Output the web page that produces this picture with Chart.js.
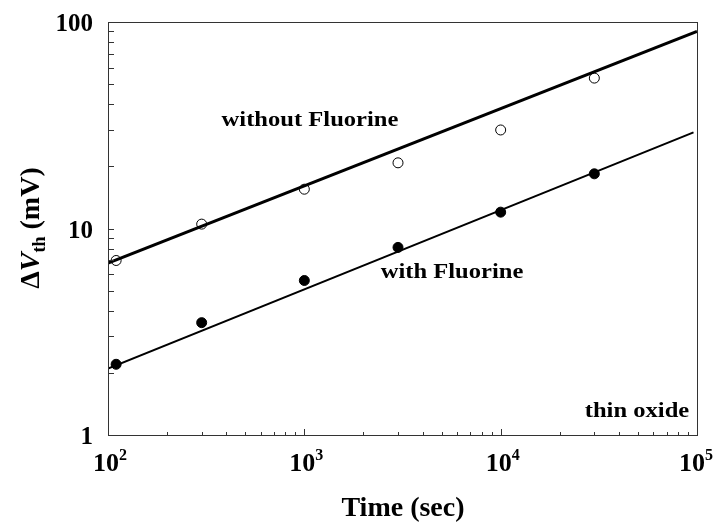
<!DOCTYPE html>
<html>
<head>
<meta charset="utf-8">
<script src="https://cdn.jsdelivr.net/npm/chart.js@4.4.0/dist/chart.umd.min.js"></script>
<style>
  body { margin: 0; background: #fff; }
  #wrap { width: 715px; height: 525px; }
</style>
</head>
<body>
<div id="wrap"><canvas id="myChart" width="715" height="525"></canvas></div>
<script>
// measured threshold voltage shift vs stress time
const timeSec = [110, 300, 1000, 3000, 10000, 30000];
const dvthWithout = [7.0, 10.5, 15.5, 20.8, 30, 53.5];
const dvthWith = [2.2, 3.5, 5.6, 8.1, 12, 18.4];

// power-law fit lines
const fitWithoutX = [100, 100000];
const fitWithoutY = [6.8, 90];
const fitWithX = [100, 96000];
const fitWithY = [2.1, 29.2];

// axis labels
const xTickExp = [2, 3, 4, 5];
const yTickLabels = ['1', '10', '100'];

const SERIF = '"Liberation Serif", "Times New Roman", serif';

function toPoints(xs, ys) {
    return xs.map((x, i) => ({ x: x, y: ys[i] }));
}

// draw text with an optional horizontal stretch
function drawText(ctx, str, x, y, font, sx, align) {
    ctx.save();
    ctx.font = font;
    ctx.textBaseline = 'alphabetic';
    ctx.textAlign = 'left';
    const w = ctx.measureText(str).width * sx;
    let x0 = x;
    if (align === 'center') x0 = x - w / 2;
    if (align === 'right') x0 = x - w;
    ctx.translate(x0, y);
    ctx.scale(sx, 1);
    ctx.fillText(str, 0, 0);
    ctx.restore();
    return w;
}

const decorPlugin = {
    id: 'decor',
    afterDraw(chart) {
        const ctx = chart.ctx;
        const a = chart.chartArea;
        const xs = chart.scales.x;
        const ys = chart.scales.y;
        ctx.save();
        ctx.fillStyle = '#000';

        // frame
        ctx.strokeStyle = '#333';
        ctx.lineWidth = 1;
        ctx.strokeRect(a.left + 0.5, a.top + 0.5, a.right - a.left, a.bottom - a.top);

        // inward tick marks
        ctx.beginPath();
        for (let k = 2; k < 5; k++) {
            for (let m = 1; m < 10; m++) {
                const v = m * Math.pow(10, k);
                const px = Math.round(xs.getPixelForValue(v)) + 0.5;
                const len = m === 1 ? 6 : 3;
                ctx.moveTo(px, a.bottom);
                ctx.lineTo(px, a.bottom - len);
            }
        }
        for (let k = 0; k < 2; k++) {
            for (let m = 1; m < 10; m++) {
                const v = m * Math.pow(10, k);
                const py = Math.round(ys.getPixelForValue(v)) + 0.5;
                ctx.moveTo(a.left, py);
                ctx.lineTo(a.left + 6, py);
            }
        }
        ctx.stroke();

        // y tick labels
        yTickLabels.forEach(t => {
            const py = ys.getPixelForValue(Number(t));
            drawText(ctx, t, a.left - 15, py + 9, 'bold 25px ' + SERIF, 1.0, 'right');
        });

        // x tick labels: 10 with superscript exponent
        xTickExp.forEach(e => {
            const px = xs.getPixelForValue(Math.pow(10, e));
            ctx.font = 'bold 26px ' + SERIF;
            const wBase = ctx.measureText('10').width;
            ctx.font = 'bold 16px ' + SERIF;
            const wExp = ctx.measureText(String(e)).width;
            const x0 = Math.min(px + 2 - (wBase + wExp) / 2, 713 - wBase - wExp);
            drawText(ctx, '10', x0, 471, 'bold 26px ' + SERIF, 1.0, 'left');
            drawText(ctx, String(e), x0 + wBase, 460, 'bold 16px ' + SERIF, 1.0, 'left');
        });

        // axis titles
        drawText(ctx, 'Time (sec)', 403, 516, 'bold 28px ' + SERIF, 1.0, 'center');

        ctx.save();
        ctx.translate(39, 228);
        ctx.rotate(-Math.PI / 2);
        const fMain = 'bold 28px ' + SERIF;
        const fItal = 'italic bold 28px ' + SERIF;
        const fSub = 'bold 18px ' + SERIF;
        ctx.font = fMain; const w1 = ctx.measureText('\u0394').width;
        ctx.font = fItal; const w2 = ctx.measureText('V').width;
        ctx.font = fSub; const w3 = ctx.measureText('th').width;
        ctx.font = fMain; const w4 = ctx.measureText(' (mV)').width;
        let x = -(w1 + w2 + w3 + w4) / 2;
        drawText(ctx, '\u0394', x, 0, fMain, 1.0, 'left'); x += w1;
        drawText(ctx, 'V', x, 0, fItal, 1.0, 'left'); x += w2;
        drawText(ctx, 'th', x, 6, fSub, 1.0, 'left'); x += w3;
        drawText(ctx, ' (mV)', x, 0, fMain, 1.0, 'left');
        ctx.restore();

        // annotations
        const fNote = 'bold 21px ' + SERIF;
        drawText(ctx, 'without Fluorine', 310, 126, fNote, 1.17, 'center');
        drawText(ctx, 'with Fluorine', 452, 278, fNote, 1.17, 'center');
        drawText(ctx, 'thin oxide', 637, 417, fNote, 1.17, 'center');

        ctx.restore();
    }
};

const myChart = document.getElementById('myChart');

let scatterChart = new Chart(myChart, {
    type: 'scatter',
    data: {
        datasets: [
            {
                label: 'without Fluorine fit',
                data: toPoints(fitWithoutX, fitWithoutY),
                showLine: true,
                borderColor: '#000',
                borderWidth: 3,
                pointRadius: 0
            },
            {
                label: 'with Fluorine fit',
                data: toPoints(fitWithX, fitWithY),
                showLine: true,
                borderColor: '#000',
                borderWidth: 2,
                pointRadius: 0
            },
            {
                label: 'without Fluorine',
                data: toPoints(timeSec, dvthWithout),
                pointRadius: 5,
                pointBackgroundColor: '#fff',
                pointBorderColor: '#000',
                pointBorderWidth: 1
            },
            {
                label: 'with Fluorine',
                data: toPoints(timeSec, dvthWith),
                pointRadius: 5,
                pointBackgroundColor: '#000',
                pointBorderColor: '#000',
                pointBorderWidth: 1
            }
        ]
    },
    options: {
        responsive: false,
        animation: false,
        layout: { padding: { top: 22, right: 18, left: 0, bottom: 0 } },
        plugins: {
            legend: { display: false },
            tooltip: { enabled: false }
        },
        scales: {
            x: {
                type: 'logarithmic',
                min: 100,
                max: 100000,
                grid: { display: false },
                border: { display: false },
                ticks: { display: false },
                afterFit: s => { s.height = 90; }
            },
            y: {
                type: 'logarithmic',
                min: 1,
                max: 100,
                grid: { display: false },
                border: { display: false },
                ticks: { display: false },
                afterFit: s => { s.width = 108; }
            }
        }
    },
    plugins: [decorPlugin]
});
</script>
</body>
</html>
